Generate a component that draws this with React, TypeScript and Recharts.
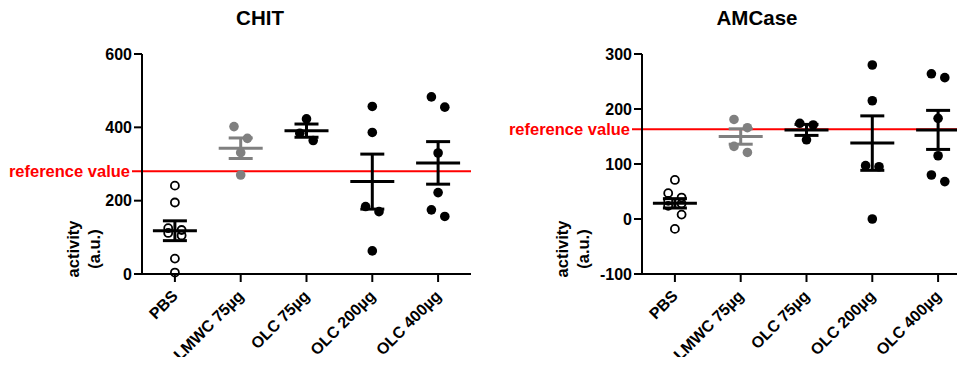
import { ErrorBar, ReferenceLine, Scatter, ScatterChart, XAxis, YAxis } from "recharts";

const GROUPS = ["PBS", "LMWC 75µg", "OLC 75µg", "OLC 200µg", "OLC 400µg"];

// CHIT activity per animal
const chitPBS = [241, 195, 125, 120, 112, 105, 42, 4];
const chitLMWC75 = [402, 370, 331, 270];
const chitOLC75 = [423, 384, 364];
const chitOLC200 = [457, 386, 184, 170, 63];
const chitOLC400 = [483, 455, 330, 222, 175, 157];
const chitMean = [118, 343, 391, 252, 303];
const chitSem = [27, 28, 18, 75, 58];
const chitReference = 280;
const chitTicks = [0, 200, 400, 600];

// AMCase activity per animal
const amcasePBS = [71, 47, 39, 33, 28, 24, 8, -18];
const amcaseLMWC75 = [181, 166, 132, 121];
const amcaseOLC75 = [174, 171, 144];
const amcaseOLC200 = [280, 215, 97, 95, 0];
const amcaseOLC400 = [264, 257, 183, 115, 80, 68];
const amcaseMean = [28.5, 150, 162, 138, 162];
const amcaseSem = [8.5, 14, 10, 49.5, 35.5];
const amcaseReference = 163;
const amcaseTicks = [-100, 0, 100, 200, 300];

const FONT = '"Liberation Sans", Arial, sans-serif';
const GRAY = "#808080";
const PLOT_H = 220;

const groupColor = (g: number) => (g === 1 ? GRAY : "#000");

// neighbours closer than a dot get pushed left / right, like a column scatter
function spreadSides(values: number[], threshold: number) {
  const order = values.map((_, i) => i).sort((a, b) => values[b] - values[a]);
  const sides = new Array(values.length).fill(0);
  let k = 0;
  while (k < order.length) {
    let end = k;
    while (end + 1 < order.length && values[order[end]] - values[order[end + 1]] < threshold) end++;
    if (end > k) {
      for (let j = k; j <= end; j++) sides[order[j]] = (j - k) % 2 === 0 ? -1 : 1;
    }
    k = end + 1;
  }
  return sides;
}

function buildPoints(sets: number[][], span: number) {
  const threshold = (12.8 * span) / PLOT_H;
  return sets.flatMap((vals, g) => {
    const sides = spreadSides(vals, threshold);
    return vals.map((y, i) => ({ x: g, y, side: sides[i] }));
  });
}

function Dot(props: any) {
  const { cx, cy, payload } = props;
  const x = cx + payload.side * 6.7;
  if (payload.x === 0) {
    return <circle cx={x} cy={cy} r={4} fill="none" stroke="#000" strokeWidth={1.8} />;
  }
  return <circle cx={x} cy={cy} r={4.8} fill={groupColor(payload.x)} />;
}

function MeanLine(props: any) {
  const { cx, cy, payload } = props;
  return <line x1={cx - 22} x2={cx + 22} y1={cy} y2={cy} stroke={groupColor(payload.x)} strokeWidth={3} />;
}

function GroupTick(props: any) {
  const { x, y, payload } = props;
  return (
    <g transform={`translate(${x + 4},${y + 13}) rotate(-45)`}>
      <text textAnchor="end" fill="#000" fontSize={16} fontWeight={700} fontFamily={FONT}>
        {GROUPS[payload.value]}
      </text>
    </g>
  );
}

function RefShape(props: any) {
  const { x1, x2, y1, y2 } = props;
  return <line x1={x1 - 10} x2={x2} y1={y1} y2={y2} stroke="#ff0000" strokeWidth={2} />;
}

interface PanelProps {
  left: number;
  sets: number[][];
  mean: number[];
  sem: number[];
  reference: number;
  ticks: number[];
}

function Panel({ left, sets, mean, sem, reference, ticks }: PanelProps) {
  const lo = ticks[0];
  const hi = ticks[ticks.length - 1];
  const points = buildPoints(sets, hi - lo);
  const summary = mean.map((m, g) => ({ x: g, y: m, sem: sem[g] }));
  const blackSummary = summary.filter((d) => d.x !== 1);
  const graySummary = summary.filter((d) => d.x === 1);
  const axisStroke = { stroke: "#000", strokeWidth: 2 };

  return (
    <div style={{ position: "absolute", left, top: 0 }}>
      <ScatterChart width={480} height={365} margin={{ top: 54, right: 9, bottom: 11, left: 0 }}>
        <XAxis
          type="number"
          dataKey="x"
          domain={[-0.5, 4.5]}
          ticks={[0, 1, 2, 3, 4]}
          interval={0}
          height={80}
          tickSize={8}
          axisLine={axisStroke}
          tickLine={axisStroke}
          tick={<GroupTick />}
        />
        <YAxis
          type="number"
          dataKey="y"
          domain={[lo, hi]}
          ticks={ticks}
          interval={0}
          width={142}
          tickSize={8}
          axisLine={axisStroke}
          tickLine={axisStroke}
          tick={{ fill: "#000", fontSize: 16, fontWeight: 700, fontFamily: FONT }}
        />
        <ReferenceLine
          y={reference}
          ifOverflow="visible"
          shape={<RefShape />}
          label={{
            value: "reference value",
            position: "left",
            offset: 12,
            fill: "#ff0000",
            fontSize: 16.5,
            fontWeight: 700,
            fontFamily: FONT,
          }}
        />
        <Scatter data={points} shape={<Dot />} isAnimationActive={false} />
        <Scatter data={blackSummary} shape={<MeanLine />} isAnimationActive={false}>
          <ErrorBar dataKey="sem" direction="y" width={12} stroke="#000" strokeWidth={3} isAnimationActive={false} />
        </Scatter>
        <Scatter data={graySummary} shape={<MeanLine />} isAnimationActive={false}>
          <ErrorBar dataKey="sem" direction="y" width={12} stroke={GRAY} strokeWidth={3} isAnimationActive={false} />
        </Scatter>
      </ScatterChart>
    </div>
  );
}

const textBase = { position: "absolute" as const, fontFamily: FONT, fontWeight: 700, color: "#000", whiteSpace: "nowrap" as const };

function Title({ x, text }: { x: number; text: string }) {
  return (
    <div style={{ ...textBase, left: x, top: 5, fontSize: 20.5, lineHeight: "26px", transform: "translateX(-50%)" }}>
      {text}
    </div>
  );
}

function YLabel({ x }: { x: number }) {
  return (
    <div
      style={{
        ...textBase,
        left: x,
        top: 249,
        fontSize: 16.5,
        lineHeight: "21px",
        textAlign: "center",
        transform: "translate(-50%, -50%) rotate(-90deg)",
      }}
    >
      activity
      <br />
      (a.u.)
    </div>
  );
}

export default function App() {
  return (
    <div style={{ position: "relative", width: 965, height: 365, overflow: "hidden", margin: -8, background: "#fff" }}>
      <Panel
        left={0}
        sets={[chitPBS, chitLMWC75, chitOLC75, chitOLC200, chitOLC400]}
        mean={chitMean}
        sem={chitSem}
        reference={chitReference}
        ticks={chitTicks}
      />
      <Panel
        left={500}
        sets={[amcasePBS, amcaseLMWC75, amcaseOLC75, amcaseOLC200, amcaseOLC400]}
        mean={amcaseMean}
        sem={amcaseSem}
        reference={amcaseReference}
        ticks={amcaseTicks}
      />
      <Title x={260} text="CHIT" />
      <Title x={757} text="AMCase" />
      <YLabel x={84} />
      <YLabel x={573} />
    </div>
  );
}
